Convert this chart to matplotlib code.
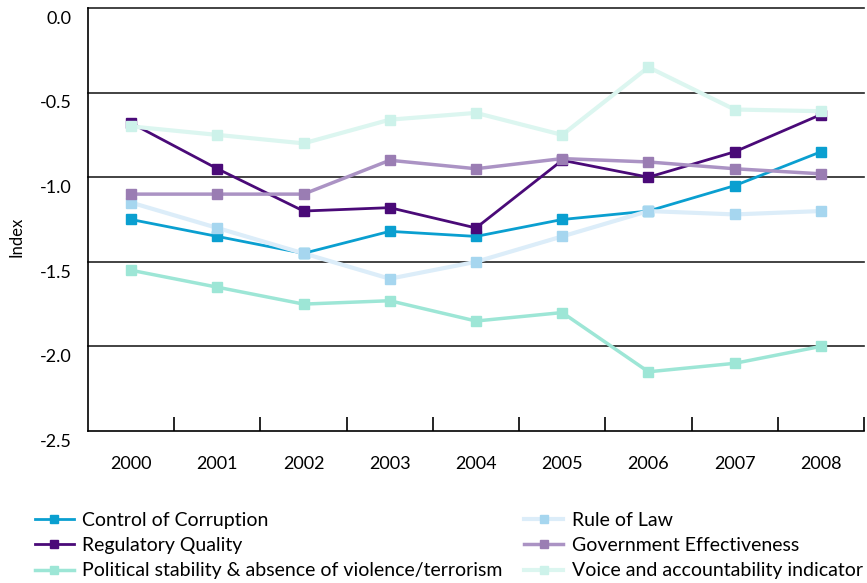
import matplotlib
matplotlib.use('Agg')
import matplotlib.pyplot as plt
import matplotlib.transforms as mtransforms
import numpy as np

plt.rcParams['font.family'] = ['Lato', 'DejaVu Sans']

years = ['2000', '2001', '2002', '2003', '2004', '2005', '2006', '2007', '2008']

control_corruption = [-1.25, -1.35, -1.45, -1.32, -1.35, -1.25, -1.20, -1.05, -0.85]
regulatory_quality = [-0.68, -0.95, -1.20, -1.18, -1.30, -0.90, -1.00, -0.85, -0.63]
political_stability = [-1.55, -1.65, -1.75, -1.73, -1.85, -1.80, -2.15, -2.10, -2.00]
rule_of_law = [-1.15, -1.30, -1.45, -1.60, -1.50, -1.35, -1.20, -1.22, -1.20]
gov_effectiveness = [-1.10, -1.10, -1.10, -0.90, -0.95, -0.89, -0.91, -0.95, -0.98]
voice_accountability = [-0.70, -0.75, -0.80, -0.66, -0.62, -0.75, -0.35, -0.60, -0.61]

series = [
    ('Control of Corruption', control_corruption, '#0a9fd0', '#0a9fd0', 2.0),
    ('Regulatory Quality', regulatory_quality, '#4a0a78', '#4a0a78', 2.0),
    ('Political stability & absence of violence/terrorism', political_stability, '#9de6d6', '#9de6d6', 2.5),
    ('Rule of Law', rule_of_law, '#dcedf9', '#a6d6ef', 3.0),
    ('Government Effectiveness', gov_effectiveness, '#ab93c4', '#9a7db3', 2.5),
    ('Voice and accountability indicator', voice_accountability, '#dcf6f0', '#cdf2ea', 3.0),
]

fig = plt.figure(figsize=(8.67, 5.83), dpi=100)
ax = fig.add_axes([0.1015, 0.2607, 0.8950, 0.7256])

x = np.arange(len(years))
for label, vals, lc, mc, lw in series:
    ax.plot(x, vals, color=lc, linewidth=lw, marker='s', markersize=7,
            markerfacecolor=mc, markeredgecolor=mc, label=label, zorder=3)

ax.set_xlim(-0.5, len(years) - 0.5)
ax.set_ylim(-2.5, 0.0)

for yv in [0.0, -0.5, -1.0, -1.5, -2.0]:
    ax.axhline(yv, color='#222222', linewidth=1.2, zorder=1, clip_on=False)

ax.spines['top'].set_visible(False)
ax.spines['right'].set_visible(False)
ax.spines['left'].set_linewidth(1.2)
ax.spines['bottom'].set_linewidth(1.2)

# category boundary ticks on the x axis
ax.set_xticks(np.arange(0.5, len(years) - 0.5 + 1, 1.0))
ax.set_xticklabels([])
ax.tick_params(axis='x', direction='in', length=10, width=1.2, color='black')
ax.set_xticks(x, minor=True)
ax.set_xticklabels(years, minor=True, fontsize=13)
ax.tick_params(axis='x', which='minor', length=0, pad=18)

ax.set_yticks([0.0, -0.5, -1.0, -1.5, -2.0, -2.5])
ax.set_yticklabels(['0.0', '-0.5', '-1.0', '-1.5', '-2.0', '-2.5'], fontsize=13)
ax.tick_params(axis='y', length=0, pad=12)
offset = mtransforms.ScaledTranslation(0, -2 / 72, fig.dpi_scale_trans)
for t in ax.get_yticklabels():
    t.set_va('top')
    t.set_transform(t.get_transform() + offset)

ax.set_ylabel('Index', fontsize=12)
ax.yaxis.set_label_coords(-0.082, 0.46)

handles, labels = ax.get_legend_handles_labels()
fig.legend(handles, labels, loc='upper left', bbox_to_anchor=(0.031, 0.135),
           ncol=2, frameon=False, fontsize=14, handlelength=2.0,
           columnspacing=1.1, labelspacing=0.42, handletextpad=0.45,
           borderaxespad=0, markerscale=0.8)

fig.savefig('out.png', dpi=100)
